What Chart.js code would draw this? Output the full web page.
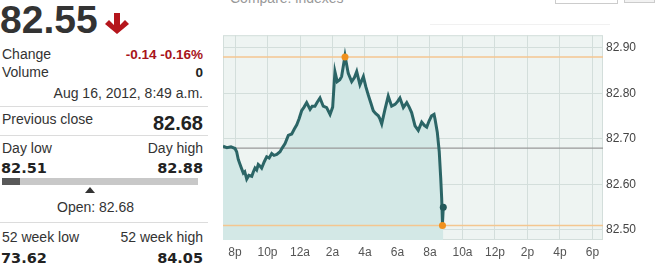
<!DOCTYPE html>
<html>
<head>
<meta charset="utf-8">
<script src="https://cdn.jsdelivr.net/npm/chart.js@4/dist/chart.umd.min.js"></script>
<style>
  body { margin:0; background:#fff; width:659px; height:264px; overflow:hidden; position:relative; font-family: Arial, "Liberation Sans", sans-serif; color:#333; }
  .t { position:absolute; white-space:nowrap; line-height:1; }
  .r { text-align:right; width:203px; left:0; }
  .sep { position:absolute; left:0; width:208px; height:1px; background:#dcdcdc; }
  .num { font-family:"DejaVu Sans", sans-serif; font-weight:bold; font-size:14.5px; color:#222; }
  #wrap { position:absolute; left:210px; top:25px; width:449px; height:239px; }
</style>
</head>
<body>
<!-- quote panel -->
<div class="t" style="left:0;top:-0.5px;font-size:39px;font-weight:bold;color:#333;">82.55</div>
<svg style="position:absolute;left:104px;top:11px" width="28" height="26" viewBox="104 11 28 26">
  <polygon points="114,13 120,13 120,25 125,20 129,24 117,34 105,24 109,20 114,25" fill="#b5161c"/>
</svg>

<div class="t" style="left:2px;top:47px;font-size:14px;">Change</div>
<div class="t r" style="top:47.5px;font-size:13.5px;font-weight:bold;color:#a8141a;">-0.14 -0.16%</div>
<div class="t" style="left:2px;top:65px;font-size:14px;">Volume</div>
<div class="t r" style="top:65.5px;font-size:13.5px;font-weight:bold;color:#222;">0</div>
<div class="t r" style="top:85.5px;font-size:14px;">Aug 16, 2012, 8:49 a.m.</div>
<div class="sep" style="top:106px"></div>

<div class="t" style="left:2px;top:112px;font-size:14px;">Previous close</div>
<div class="t r" style="top:112.5px;font-size:20px;font-weight:bold;color:#222;">82.68</div>
<div class="sep" style="top:135px"></div>

<div class="t" style="left:2px;top:141px;font-size:14px;">Day low</div>
<div class="t r" style="top:141px;font-size:14px;">Day high</div>
<div class="t num" style="left:1px;top:161px;">82.51</div>
<div class="t r num" style="top:161px;">82.88</div>
<div style="position:absolute;left:2px;top:178px;width:196px;height:7px;background:#c8c8c8;"></div>
<div style="position:absolute;left:2px;top:178px;width:18px;height:7px;background:#595959;"></div>
<svg style="position:absolute;left:85px;top:187px" width="10" height="6"><polygon points="0,6 10,6 5,0" fill="#333"/></svg>
<div class="t" style="left:57px;top:200px;font-size:14px;">Open: 82.68</div>
<div class="sep" style="top:222px"></div>

<div class="t" style="left:2px;top:229.5px;font-size:14px;">52 week low</div>
<div class="t r" style="top:229.5px;font-size:14px;">52 week high</div>
<div class="t num" style="left:1px;top:250.5px;">73.62</div>
<div class="t r num" style="top:250.5px;">84.05</div>

<!-- chart header, cut off at top -->
<div class="t" style="left:230px;top:-9px;font-size:14px;color:#999;">Compare: indexes</div>
<div style="position:absolute;left:555px;top:-20px;width:61px;height:22px;border:1px solid #ccc;background:#fff;"></div>
<div style="position:absolute;left:624px;top:-20px;width:29px;height:21px;border:1px solid #ccc;background:#f2f2f2;"></div>
<div style="position:absolute;left:430px;top:24px;width:180px;height:1px;background:#f1f1f1;"></div>

<div id="wrap"><canvas id="chart" width="449" height="239"></canvas></div>

<script>
// hours after 8 p.m. (Aug 15) and last price
var hours  = [-0.74, -0.5, -0.25, 0, 0.1, 0.2, 0.35, 0.51, 0.6, 0.72, 0.85, 1.03, 1.13, 1.23, 1.33, 1.43, 1.55, 1.64, 1.8, 1.95,
              2.1, 2.26, 2.4, 2.57, 2.77, 2.9, 3.08, 3.28, 3.49, 3.65, 3.8, 3.95, 4.1, 4.25, 4.41, 4.62, 4.75, 4.92, 5.05, 5.23,
              5.43, 5.64, 5.85, 6.01, 6.15, 6.29, 6.45, 6.56, 6.77, 6.97, 7.18, 7.35, 7.49, 7.69, 7.9, 8.05, 8.2, 8.35, 8.51, 8.65,
              8.82, 8.92, 9.03, 9.23, 9.43, 9.64, 9.85, 10.0, 10.15, 10.36, 10.57, 10.72, 10.87, 11.08, 11.28, 11.49, 11.65, 11.8, 11.95, 12.1,
              12.25, 12.31, 12.45, 12.57, 12.66, 12.72, 12.77, 12.82];
var prices = [82.684, 82.681, 82.683, 82.679, 82.672, 82.655, 82.640, 82.625, 82.628, 82.612, 82.620, 82.618, 82.628, 82.636, 82.632, 82.644, 82.640, 82.636, 82.650, 82.661,
              82.658, 82.668, 82.664, 82.666, 82.672, 82.680, 82.690, 82.708, 82.711, 82.722, 82.731, 82.745, 82.762, 82.770, 82.780, 82.765, 82.772, 82.772, 82.780, 82.790,
              82.772, 82.769, 82.754, 82.770, 82.848, 82.826, 82.830, 82.837, 82.883, 82.844, 82.826, 82.835, 82.848, 82.819, 82.837, 82.815, 82.797, 82.780, 82.762, 82.756,
              82.751, 82.744, 82.733, 82.765, 82.794, 82.772, 82.776, 82.782, 82.790, 82.769, 82.780, 82.770, 82.758, 82.729, 82.719, 82.737, 82.730, 82.726, 82.740, 82.751,
              82.754, 82.744, 82.715, 82.672, 82.615, 82.570, 82.515, 82.550];

var xTickLabels = ['8p', '10p', '12a', '2a', '4a', '6a', '8a', '10a', '12p', '2p', '4p', '6p'];
var yTicks = [82.50, 82.60, 82.70, 82.80, 82.90];

var prevClose = 82.68;
var dayHigh = 82.88;
var dayLow = 82.51;
var highAt = 6.77;
var lowAt = 12.77;
var lastAt = 12.82;
var lastPrice = 82.55;

var xMin = -0.74, xMax = 22.65;
var yMin = 82.478, yMax = 82.928;

var points = [];
for (var i = 0; i < hours.length; i++) {
    points.push({x: hours[i], y: prices[i]});
}

function hLine(v) {
    return [{x: xMin, y: v}, {x: xMax, y: v}];
}

var plotBg = {
    id: 'plotBg',
    beforeDraw: function(chart) {
        var a = chart.chartArea, ctx = chart.ctx;
        ctx.save();
        ctx.fillStyle = '#eef4f2';
        ctx.fillRect(a.left, a.top, a.right - a.left, a.bottom - a.top);
        ctx.strokeStyle = '#d3dedb';
        ctx.lineWidth = 1;
        ctx.strokeRect(a.left + 0.5, a.top + 0.5, a.right - a.left - 1, a.bottom - a.top - 1);
        ctx.restore();
    }
};

var chart = new Chart(document.getElementById('chart'), {
    type: 'line',
    data: {
        datasets: [
            {
                data: points,
                borderColor: '#2b6566',
                borderWidth: 3,
                backgroundColor: '#d3e8e6',
                fill: 'start',
                pointRadius: 0,
                tension: 0,
                order: 1
            },
            { data: hLine(prevClose), borderColor: '#999', borderWidth: 1.3, pointRadius: 0, fill: false, order: 2 },
            { data: hLine(dayHigh), borderColor: '#f4c690', borderWidth: 1.5, pointRadius: 0, fill: false, order: 2 },
            { data: hLine(dayLow), borderColor: '#f4c690', borderWidth: 1.5, pointRadius: 0, fill: false, order: 2 },
            {
                data: [{x: highAt, y: dayHigh}, {x: lowAt, y: dayLow}],
                showLine: false, pointRadius: 3.5, pointBackgroundColor: '#f0911e', pointBorderWidth: 0, order: 0
            },
            {
                data: [{x: lastAt, y: lastPrice}],
                showLine: false, pointRadius: 3.5, pointBackgroundColor: '#245a5b', pointBorderWidth: 0, order: 0
            }
        ]
    },
    options: {
        responsive: false,
        animation: false,
        layout: { padding: { left: 13, top: 6, right: 0, bottom: 0 } },
        plugins: {
            legend: { display: false },
            tooltip: { enabled: false },
            filler: { drawTime: 'beforeDatasetsDraw' }
        },
        scales: {
            x: {
                type: 'linear',
                min: xMin,
                max: xMax,
                afterBuildTicks: function(scale) {
                    scale.ticks = xTickLabels.map(function(l, i) { return {value: i * 2}; });
                },
                afterFit: function(scale) { scale.height = 24; },
                ticks: {
                    padding: 5,
                    color: '#555',
                    font: { family: 'Arial, "Liberation Sans"', size: 12 },
                    maxRotation: 0,
                    autoSkip: false,
                    callback: function(v, idx) { return xTickLabels[idx]; }
                },
                grid: { color: '#d3dedb', lineWidth: 1, drawTicks: false },
                border: { display: false }
            },
            y: {
                position: 'right',
                min: yMin,
                max: yMax,
                afterBuildTicks: function(scale) {
                    scale.ticks = yTicks.map(function(v) { return {value: v}; });
                },
                afterFit: function(scale) { scale.width = 56; },
                ticks: {
                    padding: 3,
                    color: '#444',
                    font: { family: 'Arial, "Liberation Sans"', size: 12 },
                    callback: function(v) { return v.toFixed(2); }
                },
                grid: { color: '#d3dedb', lineWidth: 1, drawTicks: false },
                border: { display: false }
            }
        }
    },
    plugins: [plotBg]
});
</script>
</body>
</html>
